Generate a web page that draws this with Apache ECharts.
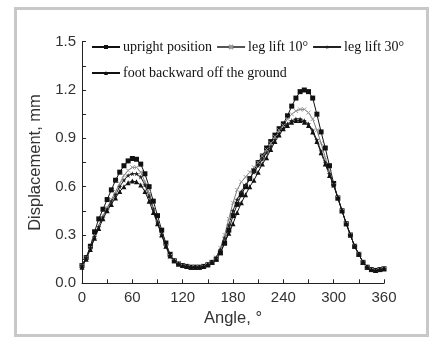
<!DOCTYPE html>
<html>
<head>
<meta charset="utf-8">
<script src="https://cdn.jsdelivr.net/npm/echarts@6/dist/echarts.min.js"></script>
<style>
  html, body { margin: 0; padding: 0; background: #fff; }
  #chart { width: 429px; height: 345px; }
</style>
</head>
<body>
<div id="chart"></div>
<script>
// angle 0..360 every 5 deg
const angles = [];
for (let a = 0; a <= 360; a += 5) angles.push(a);

const tail = [0.53, 0.45, 0.37, 0.30, 0.23, 0.18, 0.13, 0.10, 0.085, 0.08, 0.085, 0.09, 0.12];

// 0 .. 300
const upright = [0.11, 0.16, 0.23, 0.32, 0.40, 0.46, 0.52, 0.58, 0.64, 0.69, 0.73, 0.76, 0.775,
  0.77, 0.74, 0.68, 0.60, 0.51, 0.42, 0.33, 0.25, 0.18, 0.14, 0.12,
  0.11, 0.105, 0.10, 0.10, 0.10, 0.105, 0.115, 0.13, 0.15, 0.19, 0.25, 0.33, 0.42, 0.49,
  0.55, 0.60, 0.65, 0.70, 0.75, 0.79, 0.84, 0.88, 0.92, 0.96, 0.99,
  1.04, 1.10, 1.15, 1.19, 1.20, 1.19, 1.15, 1.05, 0.94, 0.84, 0.73, 0.62].concat(tail);
const lift10 = [0.11, 0.16, 0.22, 0.29, 0.36, 0.42, 0.47, 0.52, 0.57, 0.62, 0.67, 0.70, 0.72,
  0.72, 0.69, 0.63, 0.56, 0.47, 0.38, 0.30, 0.23, 0.17, 0.14, 0.12,
  0.11, 0.105, 0.10, 0.10, 0.10, 0.105, 0.115, 0.13, 0.16, 0.22, 0.30, 0.40, 0.50, 0.58,
  0.63, 0.66, 0.69, 0.72, 0.75, 0.79, 0.83, 0.87, 0.91, 0.95, 0.98,
  1.02, 1.05, 1.07, 1.08, 1.08, 1.06, 1.02, 0.95, 0.87, 0.78, 0.69, 0.61].concat(tail);
const lift30 = [0.11, 0.16, 0.22, 0.29, 0.35, 0.41, 0.46, 0.51, 0.55, 0.60, 0.64, 0.67, 0.68,
  0.68, 0.66, 0.61, 0.54, 0.46, 0.38, 0.30, 0.23, 0.17, 0.14, 0.12,
  0.11, 0.105, 0.10, 0.10, 0.10, 0.105, 0.115, 0.13, 0.16, 0.21, 0.28, 0.36, 0.45, 0.52,
  0.57, 0.61, 0.65, 0.69, 0.73, 0.77, 0.81, 0.85, 0.89, 0.93, 0.96,
  0.99, 1.01, 1.02, 1.02, 1.01, 0.99, 0.95, 0.89, 0.82, 0.75, 0.68, 0.61].concat(tail);
const footBack = [0.10, 0.15, 0.21, 0.28, 0.34, 0.40, 0.45, 0.49, 0.53, 0.57, 0.60, 0.625, 0.635,
  0.63, 0.61, 0.57, 0.51, 0.44, 0.37, 0.30, 0.23, 0.17, 0.14, 0.12,
  0.11, 0.105, 0.10, 0.10, 0.10, 0.105, 0.115, 0.13, 0.15, 0.19, 0.25, 0.31, 0.37, 0.44,
  0.50, 0.55, 0.60, 0.64, 0.69, 0.74, 0.78, 0.83, 0.88, 0.92, 0.96,
  0.98, 1.00, 1.01, 1.01, 1.00, 0.98, 0.94, 0.88, 0.81, 0.74, 0.67, 0.61].concat(tail);

const names = ['upright position', 'leg lift 10°', 'leg lift 30°', 'foot backward off the ground'];

const pairs = (vals) => angles.map((a, i) => [a, vals[i]]);
const crossPath = 'path://M0,0L10,10M10,0L0,10';
const starPath = 'path://M5,0L6.2,3.6L10,3.8L7,6.1L8.1,10L5,7.7L1.9,10L3,6.1L0,3.8L3.8,3.6Z';

const chart = echarts.init(document.getElementById('chart'));
const serif = 'Liberation Serif';
const sans = 'Liberation Sans';

const legendText = { fontFamily: serif, fontSize: 14, color: '#111', padding: [0, 0, 0, -2] };

const option = {
  animation: false,
  backgroundColor: '#fff',
  graphic: [{
    type: 'rect',
    shape: { x: 15.5, y: 8.5, width: 412, height: 327 },
    style: { fill: 'none', stroke: '#c8c8c8', lineWidth: 3 },
    silent: true
  }],
  grid: { left: 82, right: 45, top: 41.7, bottom: 61.7 },
  legend: [{
    data: names.slice(0, 3),
    left: 91, top: 40, width: 336, padding: 0,
    itemWidth: 28, itemHeight: 5, itemGap: 4,
    textStyle: legendText
  }, {
    data: names.slice(3),
    left: 91, top: 66, padding: 0,
    itemWidth: 28, itemHeight: 5,
    textStyle: legendText
  }],
  xAxis: {
    type: 'value', min: 0, max: 360, interval: 60,
    name: 'Angle, °', nameLocation: 'middle', nameGap: 26,
    nameTextStyle: { fontFamily: sans, fontSize: 16.5, color: '#333' },
    axisLine: { show: true, lineStyle: { color: '#222', width: 1 } },
    axisTick: { show: true, inside: true, length: 4, lineStyle: { color: '#222' } },
    minorTick: { show: true, splitNumber: 2, length: 4, lineStyle: { color: '#222' } },
    axisLabel: { fontFamily: sans, fontSize: 15, color: '#333', margin: 7 },
    splitLine: { show: false }
  },
  yAxis: {
    type: 'value', min: 0, max: 1.5, interval: 0.3,
    name: 'Displacement, mm', nameLocation: 'middle', nameGap: 29,
    nameTextStyle: { fontFamily: sans, fontSize: 16.5, color: '#333' },
    axisLine: { show: true, lineStyle: { color: '#222', width: 1 } },
    axisTick: { show: true, inside: true, length: 4, lineStyle: { color: '#222' } },
    minorTick: { show: true, splitNumber: 2, length: 4, lineStyle: { color: '#222' } },
    axisLabel: { fontFamily: sans, fontSize: 15, color: '#333', margin: 6,
      formatter: v => v.toFixed(1) },
    splitLine: { show: false }
  },
  series: [{
    name: names[0], type: 'line', data: pairs(upright),
    symbol: 'rect', symbolSize: 5,
    lineStyle: { color: '#111', width: 1 }, itemStyle: { color: '#111' }
  }, {
    name: names[1], type: 'line', data: pairs(lift10),
    symbol: crossPath, symbolSize: 4,
    lineStyle: { color: '#555', width: 0.8 },
    itemStyle: { color: 'none', borderColor: '#999', borderWidth: 1 }
  }, {
    name: names[2], type: 'line', data: pairs(lift30),
    symbol: starPath, symbolSize: 5,
    lineStyle: { color: '#222', width: 1 }, itemStyle: { color: '#222' }
  }, {
    name: names[3], type: 'line', data: pairs(footBack),
    symbol: 'triangle', symbolSize: 5,
    lineStyle: { color: '#111', width: 1 }, itemStyle: { color: '#111' }
  }]
};
chart.setOption(option);
</script>
</body>
</html>
